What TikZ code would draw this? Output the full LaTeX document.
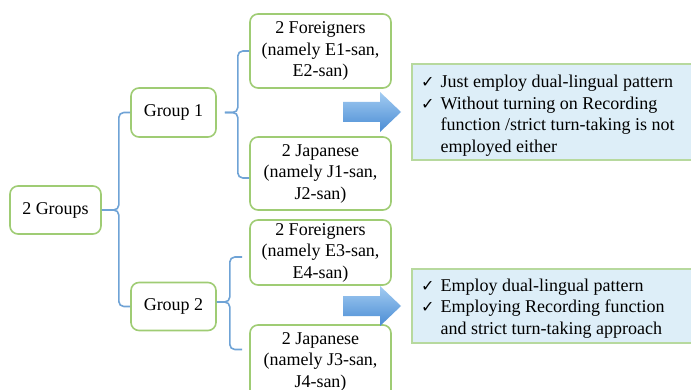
\documentclass[tikz,border=0pt]{standalone}
\usepackage{fontspec}
\setmainfont{Liberation Serif}
\newfontfamily\symfont{DejaVu Sans}
\usetikzlibrary{calc}
\definecolor{boxgreen}{HTML}{9FCC74}
\definecolor{linkblue}{HTML}{6FA3D6}
\definecolor{infofill}{HTML}{DDEEF8}
\definecolor{infoborder}{HTML}{B7D99E}
\definecolor{arrowtop}{HTML}{A3CCF2}
\definecolor{arrowbot}{HTML}{4A8CD4}
\newcommand{\chk}{{\symfont\bfseries\fontsize{16}{16}\selectfont ✓}}
\begin{document}
\begin{tikzpicture}[x=1pt,y=-1pt,
  box/.style={draw=boxgreen, line width=1.6pt, rounded corners=8pt, fill=white, align=center, inner sep=0pt, font=\fontsize{18}{21.5}\selectfont},
  conn/.style={draw=linkblue, line width=1.6pt, rounded corners=5pt},
  infobox/.style={draw=infoborder, fill=infofill, line width=2pt, inner sep=0pt, minimum width=281pt},
  infotext/.style={inner sep=0pt, align=left, font=\fontsize{18}{21.6}\selectfont},
  blockarrow/.style={top color=arrowtop, bottom color=arrowbot}
]
\clip (0,0) rectangle (691,390);
\fill[white] (0,0) rectangle (691,390);

\node[box, minimum width=91pt, minimum height=48pt] (g0) at (55.5,210) {2 Groups};
\node[box, minimum width=85pt, minimum height=49pt] (g1) at (173.5,112.5) {Group 1};
\node[box, minimum width=85pt, minimum height=48pt] (g2) at (173.5,306.5) {Group 2};
\node[box, minimum width=141pt, minimum height=74pt] (f1) at (320.5,51) {2 Foreigners\\(namely E1-san,\\E2-san)};
\node[box, minimum width=141pt, minimum height=73pt] (j1) at (320.5,173.5) {2 Japanese\\(namely J1-san,\\J2-san)};
\node[box, minimum width=141pt, minimum height=65pt] (f2) at (320.5,252.5) {2 Foreigners\\(namely E3-san,\\E4-san)};
\node[box, minimum width=141pt, minimum height=73pt] (j2) at (320.5,361.5) {2 Japanese\\(namely J3-san,\\J4-san)};

\draw[conn] (g0.east) -- ++(17,0) |- (g1.west);
\draw[conn] (g0.east) -- ++(17,0) |- (g2.west);
\draw[conn, shorten <=8pt] (g1.east) -- ++(21,0) |- (f1.west);
\draw[conn, shorten <=8pt] (g1.east) -- ++(21,0) |- ([yshift=-4.5pt]j1.west);
\draw[conn, shorten >=7pt] ([yshift=4.5pt]g2.east) -- ++(13,0) |- ([yshift=-4.5pt]f2.west);
\draw[conn, shorten >=7pt] ([yshift=4.5pt]g2.east) -- ++(13,0) |- ([yshift=12pt]j2.west);

\shade[blockarrow] (343,102) -- (380,102) -- (380,92) -- (401,112) -- (380,132) -- (380,122) -- (343,122) -- cycle;
\shade[blockarrow] (343,296) -- (380,296) -- (380,286) -- (401,306) -- (380,326) -- (380,316) -- (343,316) -- cycle;

\node[infobox, minimum height=96pt] (i1) at (552.5,112) {};
\node[infotext, anchor=west] (t1) at ([xshift=10pt,yshift=-3.5pt]i1.west) {\begin{tabular}{@{}l@{\hspace{6pt}}l@{}}\chk & Just employ dual-lingual pattern\\ \chk & Without turning on Recording\\ & function /strict turn-taking is not\\ & employed either\end{tabular}};
\node[infobox, minimum height=74pt] (i2) at (552.5,306) {};
\node[infotext, anchor=west] (t2) at ([xshift=10pt,yshift=-2.5pt]i2.west) {\begin{tabular}{@{}l@{\hspace{6pt}}l@{}}\chk & Employ dual-lingual pattern\\ \chk & Employing Recording function\\ & and strict turn-taking approach\end{tabular}};
\end{tikzpicture}
\end{document}
